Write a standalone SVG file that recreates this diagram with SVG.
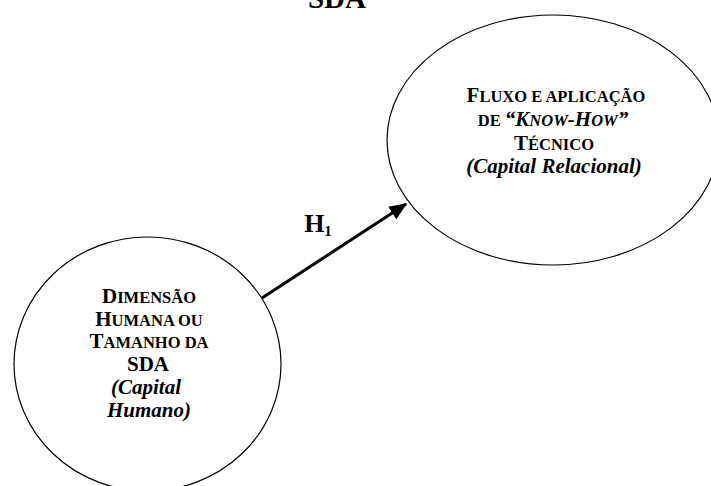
<svg xmlns="http://www.w3.org/2000/svg" width="711" height="486" viewBox="0 0 711 486">
  <style>
    .shape { fill: none; stroke: #000; stroke-width: 1.2; }
    .label { font-family: "Liberation Serif", "Times New Roman", serif; font-weight: bold; font-size: 21px; fill: #000; text-anchor: middle; }
    .sc { font-size: 16.5px; }
    .it { font-style: italic; }
    .link { stroke: #000; stroke-width: 3; fill: none; }
  </style>
  <defs>
    <marker id="arrow" markerWidth="6" markerHeight="5" refX="5.5" refY="2.5" orient="auto" markerUnits="strokeWidth">
      <path d="M0,0 L6,2.5 L0,5 Z" fill="#000"/>
    </marker>
  </defs>
  <rect width="711" height="486" fill="#fff"/>

  <!-- title, partly above the page -->
  <text class="label" x="337" y="8" style="font-size:29px">SDA</text>

  <g id="connectors">
    <line class="link" x1="262" y1="298" x2="406" y2="204" marker-end="url(#arrow)"/>
    <text class="label" x="318" y="232" style="font-size:26px">H<tspan dy="4" style="font-size:15px">1</tspan></text>
  </g>

  <g id="node-capital-relacional">
    <ellipse class="shape" cx="553" cy="140" rx="166" ry="125"/>
    <text class="label" x="556" y="102">F<tspan class="sc">LUXO E APLICAÇÃO</tspan></text>
    <text class="label" x="553" y="126"><tspan class="sc">DE </tspan><tspan class="it">“K</tspan><tspan class="it sc">NOW</tspan><tspan class="it">-H</tspan><tspan class="it sc">OW</tspan><tspan class="it">”</tspan></text>
    <text class="label" x="554" y="150">T<tspan class="sc">ÉCNICO</tspan></text>
    <text class="label it" x="554" y="173">(Capital Relacional)</text>
  </g>

  <g id="node-capital-humano">
    <ellipse class="shape" cx="147.5" cy="364" rx="133.5" ry="127"/>
    <text class="label" x="149" y="303">D<tspan class="sc">IMENSÃO</tspan></text>
    <text class="label" x="149" y="326">H<tspan class="sc">UMANA OU</tspan></text>
    <text class="label" x="149" y="348">T<tspan class="sc">AMANHO DA</tspan></text>
    <text class="label" x="148" y="371">SDA</text>
    <text class="label it" x="146" y="394">(Capital</text>
    <text class="label it" x="149" y="417">Humano)</text>
  </g>
</svg>
